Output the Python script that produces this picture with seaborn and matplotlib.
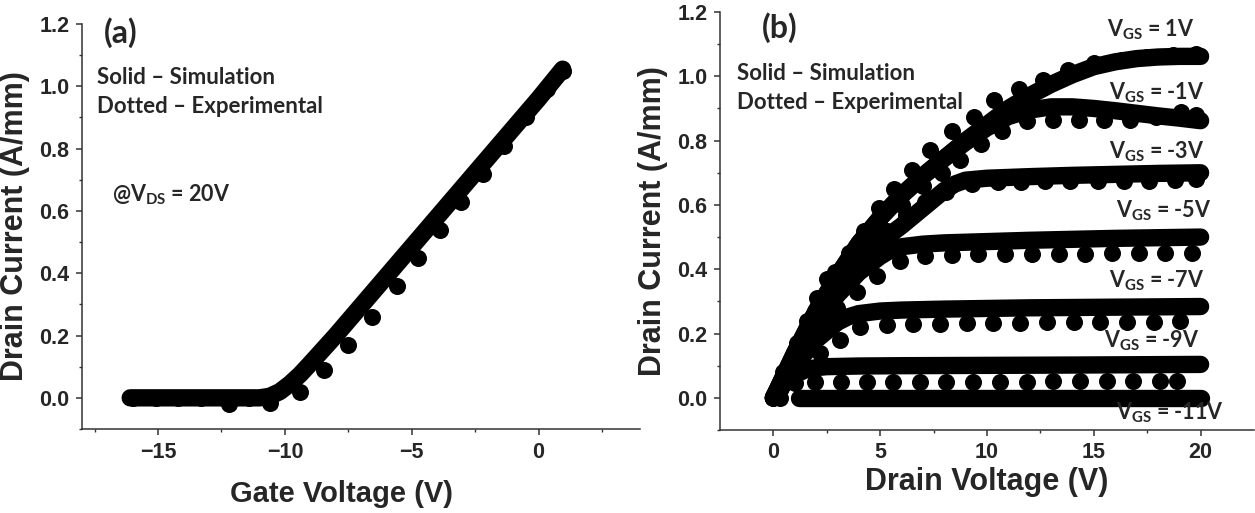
import pandas as pd
import matplotlib.pyplot as plt
import seaborn as sns

# ---- panel (a): transfer curve @ Vds = 20V ----
gate_sim_v = [-16.1, -13.0, -11.0, -10.6, -10.2, -9.8, -9.4, -9.0, -8.0, -6.0, -4.0, -2.0, 0.0, 0.95]
gate_sim_i = [0.0, 0.0, 0.0, 0.005, 0.02, 0.045, 0.075, 0.11, 0.20, 0.39, 0.58, 0.77, 0.96, 1.055]
gate_exp_v = [-16.0, -15.1, -14.2, -13.3, -12.2, -11.4, -10.6, -9.4, -8.45, -7.5, -6.55, -5.6,
              -4.75, -3.9, -3.05, -2.2, -1.35, -0.5, 0.35, 0.95]
gate_exp_i = [0.0, 0.0, 0.0, 0.0, -0.02, 0.0, -0.015, 0.02, 0.09, 0.17, 0.26, 0.36,
              0.45, 0.54, 0.63, 0.72, 0.81, 0.90, 0.99, 1.05]

# ---- panel (b): output curves ----
vgs_labels = ['1V', '-1V', '-3V', '-5V', '-7V', '-9V', '-11V']

sim_vd_p1 = [0, 1, 2, 3, 4, 5, 6, 7, 8, 9, 10, 11, 12, 13, 14, 15, 16, 17, 18, 19, 20]
sim_id_p1 = [0, 0.14, 0.27, 0.38, 0.48, 0.56, 0.63, 0.69, 0.745, 0.80, 0.85, 0.90, 0.94,
             0.975, 1.005, 1.03, 1.045, 1.055, 1.06, 1.062, 1.062]
sim_vd_m1 = [0, 1, 2, 3, 4, 5, 6, 7, 8, 9, 10, 11, 12, 13, 14, 15, 16, 17, 18, 19, 20]
sim_id_m1 = [0, 0.14, 0.27, 0.38, 0.48, 0.56, 0.63, 0.69, 0.745, 0.795, 0.84, 0.875, 0.895,
             0.905, 0.905, 0.90, 0.893, 0.885, 0.877, 0.87, 0.862]
sim_vd_m3 = [0, 1, 2, 3, 4, 5, 6, 7, 8, 8.5, 9, 10, 12, 14, 16, 18, 20]
sim_id_m3 = [0, 0.13, 0.25, 0.35, 0.43, 0.485, 0.535, 0.59, 0.645, 0.665, 0.677, 0.683,
             0.688, 0.692, 0.695, 0.698, 0.70]
sim_vd_m5 = [0, 1, 2, 3, 4, 5, 5.5, 6, 7, 8, 10, 12, 14, 16, 18, 20]
sim_id_m5 = [0, 0.12, 0.23, 0.32, 0.39, 0.44, 0.46, 0.47, 0.478, 0.482, 0.486, 0.49,
             0.493, 0.496, 0.498, 0.50]
sim_vd_m7 = [0, 1, 2, 3, 3.5, 4, 5, 6, 8, 10, 12, 14, 16, 18, 20]
sim_id_m7 = [0, 0.10, 0.18, 0.235, 0.252, 0.262, 0.27, 0.273, 0.276, 0.278, 0.28,
             0.281, 0.282, 0.283, 0.284]
sim_vd_m9 = [0, 0.5, 1, 1.5, 2, 2.5, 4, 6, 10, 14, 20]
sim_id_m9 = [0, 0.045, 0.072, 0.087, 0.094, 0.097, 0.099, 0.1, 0.101, 0.102, 0.104]
sim_vd_m11 = [1.2, 20]
sim_id_m11 = [0.0, 0.0]

exp_vd_p1 = [0, 0.47, 1.1, 1.58, 2.05, 2.5, 2.9, 3.53, 4.23, 4.93, 5.63, 6.49, 7.35, 8.37,
             9.38, 10.31, 11.5, 12.6, 13.8, 15.0, 16.3, 17.5, 18.7, 19.8]
exp_id_p1 = [0, 0.08, 0.17, 0.24, 0.31, 0.37, 0.39, 0.45, 0.52, 0.59, 0.65, 0.71, 0.77, 0.83,
             0.875, 0.925, 0.96, 0.99, 1.02, 1.04, 1.05, 1.06, 1.065, 1.07]
exp_vd_m1 = [1.0, 2.0, 3.0, 4.0, 5.0, 6.0, 7.0, 7.9, 8.75, 9.7, 10.7, 11.85, 13.1, 14.3,
             15.5, 16.7, 17.9, 19.1, 19.8]
exp_id_m1 = [0.14, 0.26, 0.36, 0.45, 0.53, 0.60, 0.66, 0.70, 0.74, 0.79, 0.83, 0.86, 0.865,
             0.865, 0.865, 0.865, 0.875, 0.89, 0.88]
exp_vd_m3 = [0.8, 1.7, 2.6, 3.5, 4.4, 5.3, 6.2, 7.1, 8.1, 9.3, 10.5, 11.6, 12.7, 13.9, 15.2,
             16.4, 17.6, 18.8, 19.8]
exp_id_m3 = [0.11, 0.22, 0.31, 0.39, 0.46, 0.52, 0.57, 0.61, 0.64, 0.665, 0.67, 0.672, 0.675,
             0.675, 0.675, 0.675, 0.675, 0.678, 0.682]
exp_vd_m5 = [0.9, 2.0, 3.0, 3.9, 4.85, 5.95, 7.1, 8.35, 9.6, 10.85, 12.1, 13.35, 14.6, 15.85,
             17.1, 18.35, 19.6]
exp_id_m5 = [0.11, 0.21, 0.28, 0.33, 0.38, 0.425, 0.44, 0.445, 0.446, 0.447, 0.447, 0.448,
             0.448, 0.449, 0.45, 0.451, 0.452]
exp_vd_m7 = [0.6, 1.35, 2.2, 3.14, 4.07, 5.3, 6.55, 7.8, 9.05, 10.3, 11.55, 12.8, 14.05,
             15.3, 16.55, 17.8, 19.05]
exp_id_m7 = [0.05, 0.10, 0.14, 0.18, 0.22, 0.228, 0.23, 0.231, 0.232, 0.233, 0.234, 0.235,
             0.235, 0.236, 0.236, 0.237, 0.238]
exp_vd_m9 = [0.35, 1.0, 1.97, 3.15, 4.4, 5.6, 6.85, 8.1, 9.35, 10.6, 11.85, 13.1, 14.35,
             15.6, 16.85, 18.1, 18.9]
exp_id_m9 = [0.03, 0.045, 0.05, 0.05, 0.05, 0.05, 0.05, 0.05, 0.05, 0.05, 0.05, 0.051,
             0.051, 0.051, 0.052, 0.052, 0.053]
exp_vd_m11 = [0.3, 2.0, 4.0, 6.0, 8.0, 10.0, 12.0, 14.0, 16.0, 18.0, 19.9]
exp_id_m11 = [0.0, 0.0, 0.0, 0.0, 0.0, 0.0, 0.0, 0.0, 0.0, 0.0, 0.0]

# label anchor (left, centre) for each Vgs curve, in data units
label_vd = [15.6, 15.7, 15.7, 16.05, 15.7, 15.5, 16.05]
label_id = [1.144, 0.948, 0.764, 0.583, 0.365, 0.178, -0.047]

sim_curves = [(sim_vd_p1, sim_id_p1), (sim_vd_m1, sim_id_m1), (sim_vd_m3, sim_id_m3),
              (sim_vd_m5, sim_id_m5), (sim_vd_m7, sim_id_m7), (sim_vd_m9, sim_id_m9),
              (sim_vd_m11, sim_id_m11)]
exp_curves = [(exp_vd_p1, exp_id_p1), (exp_vd_m1, exp_id_m1), (exp_vd_m3, exp_id_m3),
              (exp_vd_m5, exp_id_m5), (exp_vd_m7, exp_id_m7), (exp_vd_m9, exp_id_m9),
              (exp_vd_m11, exp_id_m11)]

sns.set_style('ticks')
plt.rcParams['font.family'] = ['Liberation Sans', 'DejaVu Sans']
plt.rcParams['axes.unicode_minus'] = True
plt.rcParams['mathtext.fontset'] = 'custom'
plt.rcParams['mathtext.rm'] = 'Lato'
plt.rcParams['mathtext.bf'] = 'Lato:bold'

LW = 12.5      # thick "solid" simulation line
DOT = 150      # experimental dot area
ANN = dict(family='Lato', fontweight='bold', va='center', ha='left')

W, H = 1255, 513
fig = plt.figure(figsize=(W / 100, H / 100), dpi=100)
ax1 = fig.add_axes([82 / W, 1 - 429 / H, (640 - 82) / W, (429 - 24) / H])
ax2 = fig.add_axes([720 / W, 1 - 430 / H, (1254 - 720) / W, (430 - 12) / H])


def style_axis(ax):
    for side in ['top', 'right']:
        ax.spines[side].set_visible(False)
    for side in ['left', 'bottom']:
        ax.spines[side].set_color('#333333')
        ax.spines[side].set_linewidth(1.1)
    ax.tick_params(which='major', direction='out', length=4, width=1.1, color='#333333',
                   labelsize=15.5, pad=5)
    ax.tick_params(which='minor', direction='out', length=2.5, width=1.0, color='#333333')
    for lab in ax.get_xticklabels() + ax.get_yticklabels():
        lab.set_fontweight('bold')


# ---- (a) ----
sns.lineplot(x=gate_sim_v, y=gate_sim_i, sort=False, estimator=None, color='black', lw=LW,
             solid_capstyle='round', solid_joinstyle='round', ax=ax1)
sns.scatterplot(x=gate_exp_v, y=gate_exp_i, color='black', s=DOT, linewidth=0, ax=ax1)
ax1.set_xlim(-18, 4)
ax1.set_ylim(-0.1, 1.2)
ax1.set_xticks([-15, -10, -5, 0])
ax1.set_xticks([-17.5, -12.5, -7.5, -2.5, 2.5], minor=True)
ax1.set_yticks([0.0, 0.2, 0.4, 0.6, 0.8, 1.0, 1.2])
ax1.set_yticks([-0.1, 0.1, 0.3, 0.5, 0.7, 0.9, 1.1], minor=True)
ax1.set_yticklabels(['0.0', '0.2', '0.4', '0.6', '0.8', '1.0', '1.2'])
style_axis(ax1)
ax1.set_xlabel('Gate Voltage (V)', fontsize=21, fontweight='bold')
ax1.set_ylabel('Drain Current (A/mm)', fontsize=22, fontweight='bold')
ax1.xaxis.set_label_coords((341 - 82) / 558, -(480 - 429) / 405)
ax1.yaxis.set_label_coords(-(82 - 30) / 558, 0.5)

fig.text(104 / W, 1 - 33 / H, '(a)', fontsize=23, **ANN)
fig.text(97 / W, 1 - 77 / H, 'Solid – Simulation', fontsize=16, **ANN)
fig.text(97 / W, 1 - 107 / H, 'Dotted – Experimental', fontsize=16, **ANN)
fig.text(112 / W, 1 - 195 / H, r'@V$_\mathbf{DS}$ = 20V', fontsize=15.5, **ANN)

# ---- (b) ----
for (vd, idr) in sim_curves:
    sns.lineplot(x=vd, y=idr, sort=False, estimator=None, color='black', lw=LW,
                 solid_capstyle='round', solid_joinstyle='round', ax=ax2)
for (vd, idr) in exp_curves:
    sns.scatterplot(x=vd, y=idr, color='black', s=DOT, linewidth=0, ax=ax2)
for lab, lx, ly in zip(vgs_labels, label_vd, label_id):
    ax2.text(lx, ly, r'V$_\mathbf{GS}$ = ' + lab, fontsize=15.5, **ANN)

ax2.set_xlim(-2.5, 22.5)
ax2.set_ylim(-0.1, 1.2)
ax2.set_xticks([0, 5, 10, 15, 20])
ax2.set_xticks([2.5, 7.5, 12.5, 17.5], minor=True)
ax2.set_yticks([0.0, 0.2, 0.4, 0.6, 0.8, 1.0, 1.2])
ax2.set_yticks([-0.1, 0.1, 0.3, 0.5, 0.7, 0.9, 1.1], minor=True)
ax2.set_yticklabels(['0.0', '0.2', '0.4', '0.6', '0.8', '1.0', '1.2'])
style_axis(ax2)
ax2.set_xlabel('Drain Voltage (V)', fontsize=22, fontweight='bold')
ax2.set_ylabel('Drain Current (A/mm)', fontsize=22, fontweight='bold')
ax2.xaxis.set_label_coords(0.5, -(467 - 430) / 418)
ax2.yaxis.set_label_coords(-(720 - 668) / 534, 0.5)

fig.text(762 / W, 1 - 28 / H, '(b)', fontsize=23, **ANN)
fig.text(737 / W, 1 - 73 / H, 'Solid – Simulation', fontsize=16, **ANN)
fig.text(737 / W, 1 - 103 / H, 'Dotted – Experimental', fontsize=16, **ANN)

plt.savefig('out.png', dpi=100)
